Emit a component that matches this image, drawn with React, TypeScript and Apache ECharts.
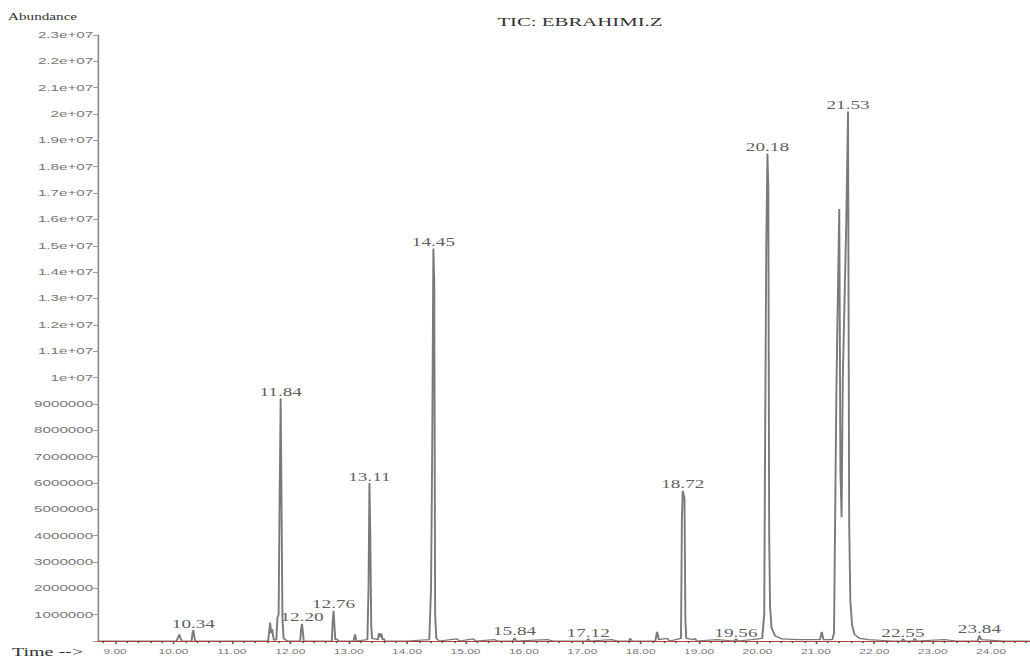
import React, { useEffect, useRef } from 'react';
import * as echarts from 'echarts';

// Retention time (min) of each scan point drawn
const scanTimes = [
  8.72, 9.2, 9.6, 10.05, 10.08, 10.1, 10.12, 10.14,
  10.31, 10.325, 10.34, 10.355, 10.37, 10.8,
  11.62, 11.64, 11.655, 11.67, 11.69, 11.705, 11.72,
  11.76, 11.78, 11.8, 11.815, 11.835, 11.85, 11.865, 11.885, 11.95,
  12.17, 12.185, 12.2, 12.215, 12.23, 12.5,
  12.71, 12.725, 12.74, 12.755, 12.77, 12.8, 12.82,
  13.08, 13.11, 13.13,
  13.32, 13.34, 13.355, 13.37, 13.385, 13.4,
  13.5, 13.52, 13.54, 13.56, 13.58, 13.6, 13.62, 14.0,
  14.38, 14.41, 14.43, 14.45, 14.465, 14.48, 14.5, 14.55,
  14.85, 14.9, 15.13, 15.18, 15.5, 15.55,
  15.81, 15.84, 15.87, 16.4, 16.5,
  17.07, 17.1, 17.13, 17.5, 17.6, 17.8, 17.82, 17.85,
  18.25, 18.28, 18.31, 18.45, 18.5,
  18.69, 18.705, 18.72, 18.75, 18.765, 18.78,
  18.9, 18.93, 18.96, 19.3, 19.6, 19.63, 19.66, 19.9,
  20.08, 20.115, 20.13, 20.15, 20.17, 20.185, 20.2, 20.215, 20.24, 20.3, 20.42,
  20.7, 21.0, 21.07, 21.1, 21.13, 21.2,
  21.28, 21.31, 21.33, 21.35, 21.37, 21.4, 21.42, 21.44, 21.46, 21.49, 21.52,
  21.55, 21.57, 21.59, 21.62, 21.66, 21.75, 21.9,
  22.3, 22.47, 22.49, 22.52, 22.67, 22.69, 22.72,
  23.2, 23.4, 23.77, 23.8, 23.83, 24.2, 24.66,
];

// Abundance of each scan point, in millions of counts
const abundance = [
  0, 0, 0, 0, 0.15, 0.25, 0.1, 0,
  0, 0.3, 0.42, 0.2, 0, 0,
  0, 0.4, 0.7, 0.3, 0.45, 0.2, 0.03,
  0.05, 0.9, 1.0, 5.0, 9.2, 5.1, 0.9, 0.1, 0,
  0, 0.45, 0.65, 0.35, 0, 0,
  0, 0.7, 1.15, 0.6, 0.05, 0.08, 0,
  0, 0.25, 0,
  0.05, 2.1, 6.0, 4.0, 0.6, 0.1,
  0.05, 0.3, 0.15, 0.28, 0.05, 0.1, 0, 0,
  0.05, 2.0, 7.4, 14.9, 13.6, 1.0, 0.1, 0,
  0.08, 0, 0.08, 0, 0.05, 0,
  0, 0.12, 0, 0.05, 0,
  0, 0.08, 0, 0.05, 0, 0, 0.1, 0,
  0, 0.35, 0.05, 0.1, 0,
  0.1, 4.6, 5.7, 5.4, 0.8, 0.1,
  0.05, 0.1, 0, 0.05, 0, 0.08, 0, 0.05,
  0.1, 1.0, 7.5, 15.0, 18.5, 17.2, 4.0, 1.3, 0.5, 0.2, 0.08,
  0.05, 0.05, 0.05, 0.35, 0.05, 0.05,
  0.05, 0.3, 4.8, 9.3, 12.3, 16.4, 6.4, 4.7, 9.9, 12.9, 15.9,
  20.1, 4.4, 1.5, 0.6, 0.25, 0.1, 0.05,
  0, 0, 0.08, 0, 0, 0.1, 0,
  0.05, 0, 0, 0.2, 0.05, 0, 0,
];

// Peak annotations and the scan time of the apex they sit on
const peakLabels = ['10.34', '11.84', '12.20', '12.76', '13.11', '14.45', '15.84', '17.12', '18.72', '19.56', '20.18', '21.53', '22.55', '23.84'];
const peakApexTimes = [10.34, 11.835, 12.2, 12.74, 13.355, 14.45, 15.84, 17.1, 18.72, 19.63, 20.17, 21.55, 22.49, 23.8];

const timeTicks = [9, 10, 11, 12, 13, 14, 15, 16, 17, 18, 19, 20, 21, 22, 23, 24];

const X_MIN = 8.707;
const X_MAX = 24.666;
const BASE_W = 644;
const STRETCH = 1030 / BASE_W;

export default function App() {
  const ref = useRef<HTMLDivElement>(null);

  useEffect(() => {
    const chart = echarts.init(ref.current as HTMLDivElement, null, { renderer: 'svg' });

    const minorTicks: number[] = [];
    for (let i = 44; i <= 123; i++) {
      const v = i / 5;
      if (i % 5 !== 0 && v > X_MIN && v < X_MAX) minorTicks.push(Number(v.toFixed(1)));
    }

    const lineData = scanTimes.map((t, i) => [t, abundance[i]]);
    const labelData = peakApexTimes.map((t, i) => {
      const idx = scanTimes.indexOf(t);
      return { name: peakLabels[i], value: [t, abundance[idx]] };
    });

    chart.setOption({
      animation: false,
      backgroundColor: '#ffffff',
      grid: { left: 98 / STRETCH, right: 0, top: 35, bottom: 18, containLabel: false },
      xAxis: [
        {
          type: 'value',
          min: X_MIN,
          max: X_MAX,
          z: 5,
          axisLine: { show: true, lineStyle: { color: '#c43a32', width: 1 } },
          axisTick: { show: true, customValues: timeTicks, length: 3, lineStyle: { color: '#555' } },
          axisLabel: {
            show: true,
            customValues: timeTicks,
            formatter: (v: number) => v.toFixed(2),
            fontFamily: 'Liberation Sans',
            fontSize: 7.5,
            color: '#777',
            margin: 6,
          },
          splitLine: { show: false },
        },
        {
          type: 'value',
          min: X_MIN,
          max: X_MAX,
          position: 'bottom',
          z: 5,
          axisLine: { show: false },
          axisTick: { show: true, customValues: minorTicks, length: 2, lineStyle: { color: '#555' } },
          axisLabel: { show: false },
          splitLine: { show: false },
        },
      ],
      yAxis: {
        type: 'value',
        min: 0,
        max: 23,
        interval: 1,
        axisLine: { show: true, lineStyle: { color: '#888', width: 1 } },
        axisTick: { show: true, length: 3, lineStyle: { color: '#999' } },
        axisLabel: {
          formatter: (v: number) => (v === 0 ? '' : v < 10 ? String(Math.round(v * 1000000)) : `${Math.round(v) / 10}e+07`),
          fontFamily: 'Liberation Sans',
          fontSize: 9.5,
          color: '#777',
          margin: 3,
        },
        splitLine: { show: false },
      },
      graphic: [
        {
          type: 'text',
          x: 362.6,
          y: 22,
          style: { text: 'TIC: EBRAHIMI.Z', fontFamily: 'Liberation Serif', fontSize: 13, fill: '#333', align: 'center', verticalAlign: 'middle' },
        },
        {
          type: 'text',
          x: 5,
          y: 17,
          style: { text: 'Abundance', fontFamily: 'Liberation Serif', fontSize: 9.5, fill: '#333', align: 'left', verticalAlign: 'middle' },
        },
        {
          type: 'text',
          x: 7.5,
          y: 652,
          style: { text: 'Time -->', fontFamily: 'Liberation Serif', fontSize: 12.5, fill: '#333', align: 'left', verticalAlign: 'middle' },
        },
      ],
      series: [
        {
          type: 'line',
          data: lineData,
          showSymbol: false,
          symbol: 'none',
          smooth: false,
          lineStyle: { color: '#7a7a7a', width: 1.2 },
          z: 2,
        },
        {
          type: 'scatter',
          data: labelData,
          symbolSize: 1,
          itemStyle: { color: 'rgba(0,0,0,0)' },
          label: {
            show: true,
            position: 'top',
            distance: 0,
            formatter: '{b}',
            fontFamily: 'Liberation Serif',
            fontSize: 12,
            color: '#333',
          },
          z: 3,
        },
      ],
    });

    return () => chart.dispose();
  }, []);

  return (
    <div
      ref={ref}
      style={{
        position: 'absolute',
        left: 0,
        top: 0,
        width: BASE_W,
        height: 659,
        transform: `scaleX(${STRETCH})`,
        transformOrigin: '0 0',
        background: '#fff',
      }}
    />
  );
}
